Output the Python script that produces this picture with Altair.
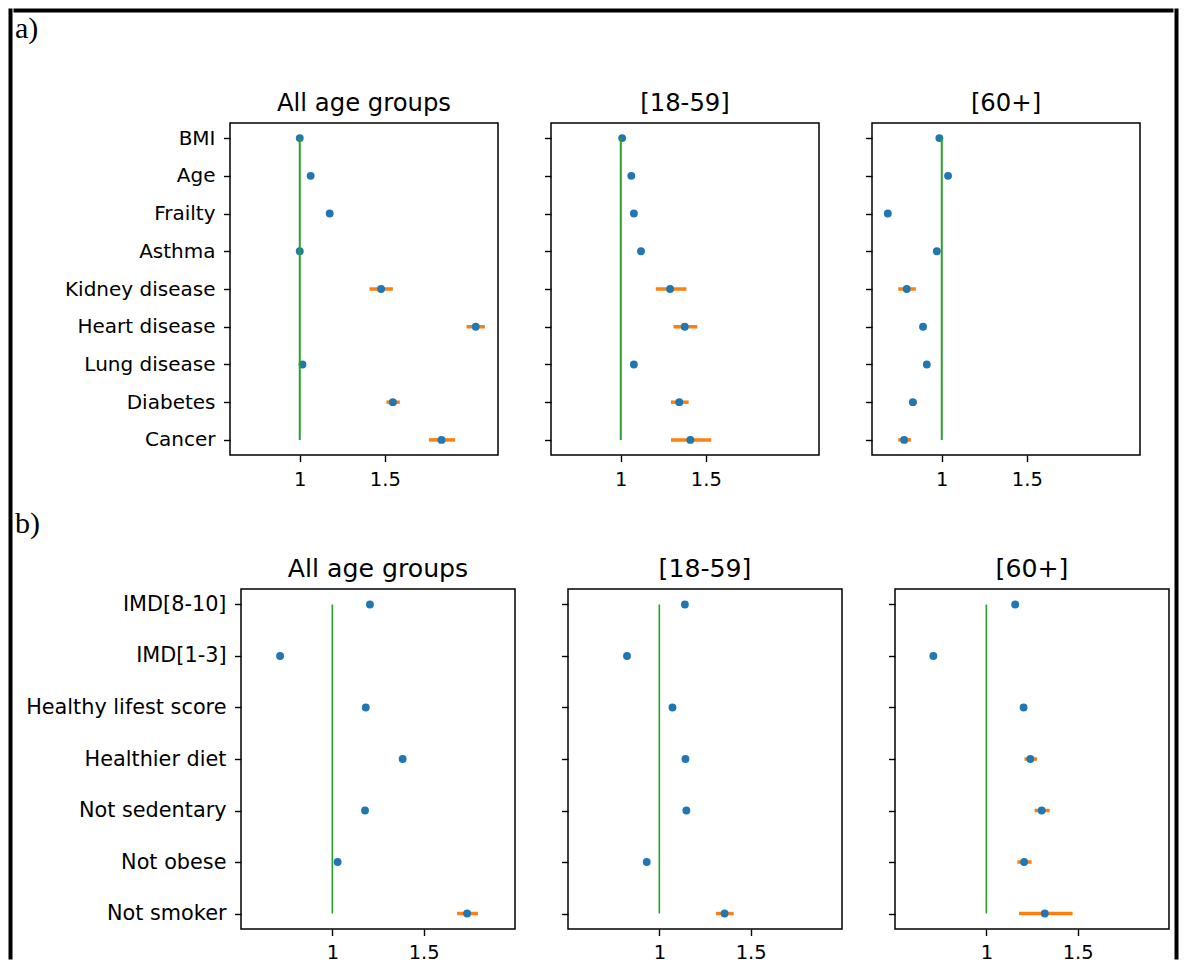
import altair as alt
import pandas as pd

# ---------------- data ----------------
panel_titles = ["All age groups", "[18-59]", "[60+]"]

a_factors = ["BMI", "Age", "Frailty", "Asthma", "Kidney disease",
             "Heart disease", "Lung disease", "Diabetes", "Cancer"]
a_all_est = [1.00, 1.064, 1.176, 1.00, 1.478, 2.034, 1.016, 1.547, 1.833]
a_all_lo = [0.99, 1.055, 1.166, 0.99, 1.41, 1.98, 1.006, 1.509, 1.759]
a_all_hi = [1.01, 1.073, 1.186, 1.01, 1.547, 2.088, 1.026, 1.588, 1.912]
a_young_est = [1.008, 1.062, 1.077, 1.119, 1.29, 1.376, 1.077, 1.344, 1.409]
a_young_lo = [0.998, 1.052, 1.067, 1.109, 1.206, 1.31, 1.067, 1.295, 1.295]
a_young_hi = [1.018, 1.072, 1.087, 1.129, 1.386, 1.45, 1.087, 1.399, 1.532]
a_old_est = [0.986, 1.037, 0.683, 0.971, 0.794, 0.89, 0.912, 0.83, 0.779]
a_old_lo = [0.976, 1.027, 0.673, 0.961, 0.744, 0.88, 0.902, 0.81, 0.744]
a_old_hi = [0.996, 1.047, 0.693, 0.981, 0.848, 0.90, 0.922, 0.853, 0.819]

b_factors = ["IMD[8-10]", "IMD[1-3]", "Healthy lifest score", "Healthier diet",
             "Not sedentary", "Not obese", "Not smoker"]
b_all_est = [1.206, 0.714, 1.183, 1.385, 1.179, 1.029, 1.738]
b_all_lo = [1.196, 0.704, 1.173, 1.375, 1.169, 1.019, 1.683]
b_all_hi = [1.216, 0.724, 1.193, 1.395, 1.189, 1.039, 1.797]
b_young_est = [1.14, 0.823, 1.072, 1.143, 1.148, 0.931, 1.357]
b_young_lo = [1.13, 0.813, 1.062, 1.133, 1.138, 0.921, 1.31]
b_young_hi = [1.15, 0.833, 1.082, 1.153, 1.158, 0.941, 1.407]
b_old_est = [1.158, 0.71, 1.204, 1.241, 1.303, 1.207, 1.32]
b_old_lo = [1.148, 0.70, 1.194, 1.209, 1.264, 1.17, 1.179]
b_old_hi = [1.168, 0.72, 1.214, 1.278, 1.347, 1.248, 1.472]

ref_value = 1.0
x_ticks = [1, 1.5]

BLUE = "#1f77b4"
ORANGE = "#ff7f0e"
GREEN = "#2ca02c"
FONT = "DejaVu Sans"
SERIF = "Liberation Serif"


def panel(factors, est, lo, hi, title, domain, width, height, ypad,
          first, extent, title_size, green_w, xpad, ylab_size):
    df = pd.DataFrame({"factor": factors, "est": est, "lo": lo, "hi": hi,
                       "ref": [ref_value] * len(factors)})
    y_axis = alt.Axis(labels=first, ticks=True, minExtent=extent,
                      labelLimit=400, labelPadding=8.5, labelFontSize=ylab_size)
    y = alt.Y("factor:N", sort=factors, title=None,
              scale=alt.Scale(type="point", padding=ypad), axis=y_axis)
    xscale = alt.Scale(domain=domain, nice=False, zero=False)
    xaxis = alt.Axis(values=x_ticks, format=".1~f", labelPadding=xpad, title=None)
    base = alt.Chart(df)
    err = base.mark_rule(color=ORANGE, strokeWidth=3.5).encode(
        x=alt.X("lo:Q", scale=xscale, axis=xaxis), x2="hi:Q", y=y)
    pts = base.mark_circle(color=BLUE, size=62, opacity=1).encode(
        x=alt.X("est:Q", scale=xscale, axis=xaxis), y=y)
    ref = base.mark_line(color=GREEN, strokeWidth=green_w).encode(
        x=alt.X("ref:Q", scale=xscale, axis=xaxis), y=y)
    return alt.layer(err, pts, ref).properties(
        width=width, height=height,
        title=alt.TitleParams(title, font=FONT, fontSize=title_size,
                              fontWeight="normal", offset=7, color="black"))


def blank(w, h, stroke_w=0, stroke="transparent"):
    return alt.Chart(alt.Data(values=[{"v": 0}])).mark_point(
        opacity=0, size=0, strokeWidth=0).encode(
        x=alt.value(0), y=alt.value(0)).properties(
        width=w, height=h,
        view=alt.ViewBackground(stroke=stroke, strokeWidth=stroke_w))


a_sets = [(a_all_est, a_all_lo, a_all_hi), (a_young_est, a_young_lo, a_young_hi),
          (a_old_est, a_old_lo, a_old_hi)]
b_sets = [(b_all_est, b_all_lo, b_all_hi), (b_young_est, b_young_lo, b_young_hi),
          (b_old_est, b_old_lo, b_old_hi)]

panels_a = alt.hconcat(
    *[panel(a_factors, e, l, h, t, [0.59, 2.165], 268, 332, 0.4, i == 0,
            213 if i == 0 else 7, 24.3, 2, 9, 20)
      for i, ((e, l, h), t) in enumerate(zip(a_sets, panel_titles))],
    spacing=44)

panels_b = alt.hconcat(
    *[panel(b_factors, e, l, h, t, [0.5, 2.0], 274, 340, 0.3, i == 0,
            224 if i == 0 else 7, 25.2, 1.6, 8, 20.8)
      for i, ((e, l, h), t) in enumerate(zip(b_sets, panel_titles))],
    spacing=44)

row_a = alt.hconcat(
    blank(1, 1), panels_a, spacing=0,
    title=alt.TitleParams("a)", anchor="start", font=SERIF, fontSize=30,
                          fontWeight="normal", offset=47, color="black"))
row_b = alt.hconcat(
    blank(1, 1), panels_b, spacing=0,
    title=alt.TitleParams("b)", anchor="start", font=SERIF, fontSize=30,
                          fontWeight="normal", offset=17.5, color="black"))

rows = alt.vconcat(row_a, row_b, spacing=18)
main = alt.vconcat(blank(1157, 1, 3, "black"), rows, spacing=0)
chart = alt.hconcat(
    blank(1, 948, 3, "black"), main, blank(1, 948, 3, "black"), spacing=0
).properties(padding=0).configure_view(
    stroke="black", strokeWidth=1.5
).configure_axis(
    labelFont=FONT, labelFontSize=19.5, labelColor="black", tickColor="black",
    tickSize=6.5, tickWidth=1.4, domain=False, grid=False
)

chart.save("out.html", embed_options={"renderer": "svg", "actions": False})
